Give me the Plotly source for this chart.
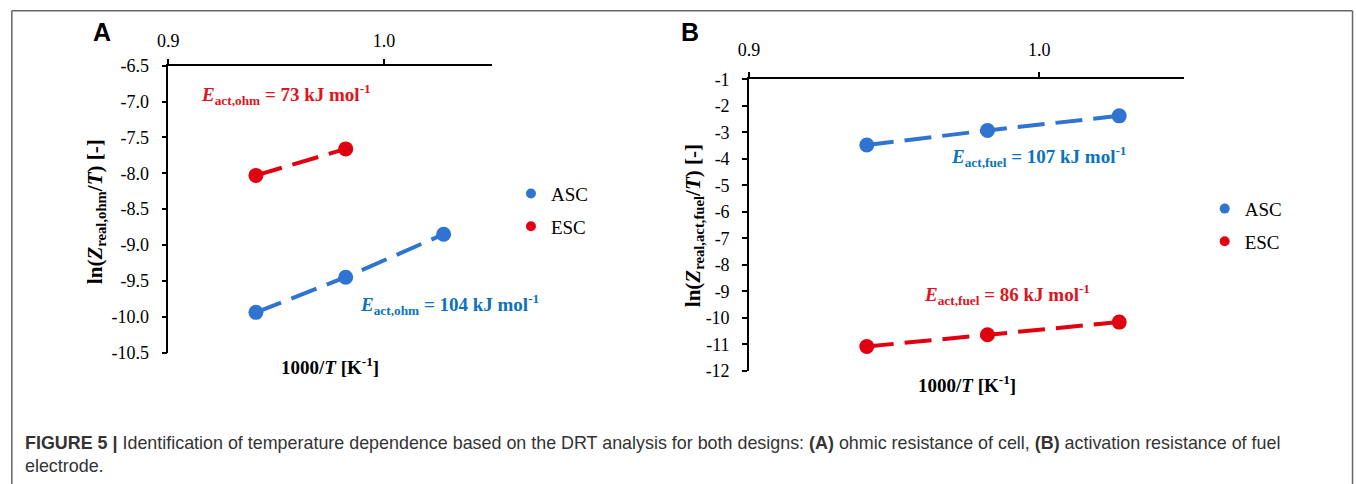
import plotly.graph_objects as go

# ---------------- data ----------------
inv_T = [0.9406, 0.9822, 1.0276]          # 1000/T [K^-1]
inv_T_esc_A = [0.9406, 0.9822]

A_asc = [-9.94, -9.45, -8.85]
A_esc = [-8.03, -7.66]
B_asc = [-3.48, -2.93, -2.38]
B_esc = [-11.08, -10.64, -10.16]

series_names = ["ASC", "ESC"]

x_tickvals = [0.9, 1.0]
x_ticktext = ["0.9", "1.0"]
A_y_tickvals = [-6.5, -7.0, -7.5, -8.0, -8.5, -9.0, -9.5, -10.0, -10.5]
A_y_ticktext = ["-6.5", "-7.0", "-7.5", "-8.0", "-8.5", "-9.0", "-9.5", "-10.0", "-10.5"]
B_y_tickvals = [-1, -2, -3, -4, -5, -6, -7, -8, -9, -10, -11, -12]
B_y_ticktext = ["-1", "-2", "-3", "-4", "-5", "-6", "-7", "-8", "-9", "-10", "-11", "-12"]

# ---------------- styling ----------------
W, H = 1360, 500
# mapping from target picture pixels to figure pixels (measured from renders)
SX, OX, SY, OY = 0.993, 9.0, 0.958, 9.2
BLUE = "#2F74D0"
RED = "#E0000F"
BLUE_TXT = "#0B72C0"
RED_TXT = "#E0141E"
SERIF = "Liberation Serif, Times New Roman, serif"
SANS = "Liberation Sans, Arial, sans-serif"


def fx(x):
    return (x - OX) / SX


def fy(y):
    return (y - OY) / SY


def px(x):
    return fx(x) / W


def py(y):
    return 1 - fy(y) / H


fig = go.Figure()

line_style = dict(width=4, dash="27px,11px")


def add_series(x, y, color, xa, ya):
    fig.add_trace(go.Scatter(
        x=x, y=y, mode="lines+markers", xaxis=xa, yaxis=ya,
        line=dict(color=color, **line_style),
        marker=dict(color=color, size=15),
        showlegend=False, hoverinfo="skip"))


add_series(inv_T, A_asc, BLUE, "x", "y")
add_series(inv_T_esc_A, A_esc, RED, "x", "y")
add_series(inv_T, B_asc, BLUE, "x2", "y2")
add_series(inv_T, B_esc, RED, "x2", "y2")

# legend entries (marker only, as in the reference)
for lg, xa, ya in [("legend", "x", "y"), ("legend2", "x2", "y2")]:
    for name, color in zip(series_names, [BLUE, RED]):
        fig.add_trace(go.Scatter(
            x=[None], y=[None], mode="markers", name=name, xaxis=xa, yaxis=ya,
            marker=dict(color=color, size=10), legend=lg, legendgroup=lg + name,
            showlegend=True))

axis_common = dict(
    showline=True, linecolor="black", linewidth=1.5, showgrid=False,
    zeroline=False, ticks="outside", ticklen=5, tickwidth=1.5, tickcolor="black",
    tickfont=dict(family=SERIF, size=18, color="black"),
)

fig.update_layout(
    width=W, height=H,
    margin=dict(l=0, r=0, t=0, b=0),
    font=dict(family=SERIF, color="black", size=18),
    paper_bgcolor="white", plot_bgcolor="rgba(0,0,0,0)",
    xaxis=dict(domain=[px(166.5), px(490.5)], range=[0.9, 1.05], side="top",
               anchor="y", tickvals=x_tickvals, ticktext=x_ticktext,
               ticklabelstandoff=5, **axis_common),
    yaxis=dict(domain=[py(351), py(64.8)], range=[-10.5, -6.5], anchor="x",
               tickvals=A_y_tickvals, ticktext=A_y_ticktext,
               ticklabelstandoff=9, **axis_common),
    xaxis2=dict(domain=[px(747.8), px(1183.5)], range=[0.9, 1.05], side="top",
                anchor="y2", tickvals=x_tickvals, ticktext=x_ticktext,
                ticklabelstandoff=9, **axis_common),
    yaxis2=dict(domain=[py(369.3), py(78.3)], range=[-12, -1], anchor="x2",
                tickvals=B_y_tickvals, ticktext=B_y_ticktext,
                ticklabelstandoff=9, **axis_common),
    legend=dict(x=px(509.5), y=py(209), xanchor="left", yanchor="middle",
                font=dict(family=SERIF, size=19, color="black"),
                bgcolor="rgba(0,0,0,0)", tracegroupgap=5, itemwidth=30),
    legend2=dict(x=px(1204), y=py(224), xanchor="left", yanchor="middle",
                 font=dict(family=SERIF, size=19, color="black"),
                 bgcolor="rgba(0,0,0,0)", tracegroupgap=5, itemwidth=30),
    showlegend=True,
)

ann = []


def text(x, y, t, size, color="black", family=SERIF, xanchor="center",
         yanchor="middle", angle=0):
    ann.append(dict(x=px(x), y=py(y), xref="paper", yref="paper", text=t,
                    showarrow=False, xanchor=xanchor, yanchor=yanchor,
                    textangle=angle,
                    font=dict(family=family, size=size, color=color)))


# panel letters
text(100, 31, "<b>A</b>", 25, family=SANS)
text(688.6, 31, "<b>B</b>", 25, family=SANS)

# axis titles
text(328, 364, "<b>1000/<i>T</i> [K<sup>-1</sup>]</b>", 19)
text(966, 382, "<b>1000/<i>T</i> [K<sup>-1</sup>]</b>", 19)
text(94, 210, "<b>ln(<i>Z</i><sub>real,ohm</sub>/<i>T</i>) [-]</b>", 21, angle=-90)
text(692.7, 224, "<b>ln(<i>Z</i><sub>real,act,fuel</sub>/<i>T</i>) [-]</b>", 21, angle=-90)

# activation energy labels
text(196.8, 94, "<b><i>E</i><sub>act,ohm</sub> = 73 kJ mol<sup>-1</sup></b>", 19,
     color=RED_TXT, xanchor="left")
text(356.4, 303, "<b><i>E</i><sub>act,ohm</sub> = 104 kJ mol<sup>-1</sup></b>", 19,
     color=BLUE_TXT, xanchor="left")
text(947.8, 155, "<b><i>E</i><sub>act,fuel</sub> = 107 kJ mol<sup>-1</sup></b>", 19,
     color=BLUE_TXT, xanchor="left")
text(921.2, 293, "<b><i>E</i><sub>act,fuel</sub> = 86 kJ mol<sup>-1</sup></b>", 19,
     color=RED_TXT, xanchor="left")

# caption
text(21, 441, "<b>FIGURE 5 |</b> Identification of temperature dependence based on the "
     "DRT analysis for both designs: <b>(A)</b> ohmic resistance of cell, "
     "<b>(B)</b> activation resistance of fuel", 17.9, color="#333333", family=SANS,
     xanchor="left")
text(21, 464, "electrode.", 17.9, color="#333333", family=SANS, xanchor="left")

fig.update_layout(annotations=ann)

# figure frame (top, left, right edges)
frame = dict(color="#666666", width=1.5)
left = max(px(8), 0.0006)
right = px(1352)
top = min(py(6), 0.9985)
fig.add_shape(type="line", xref="paper", yref="paper", x0=left, x1=right,
              y0=top, y1=top, line=frame)
fig.add_shape(type="line", xref="paper", yref="paper", x0=left, x1=left,
              y0=top, y1=0, line=frame)
fig.add_shape(type="line", xref="paper", yref="paper", x0=right, x1=right,
              y0=top, y1=0, line=frame)

fig.write_html("out.html")
